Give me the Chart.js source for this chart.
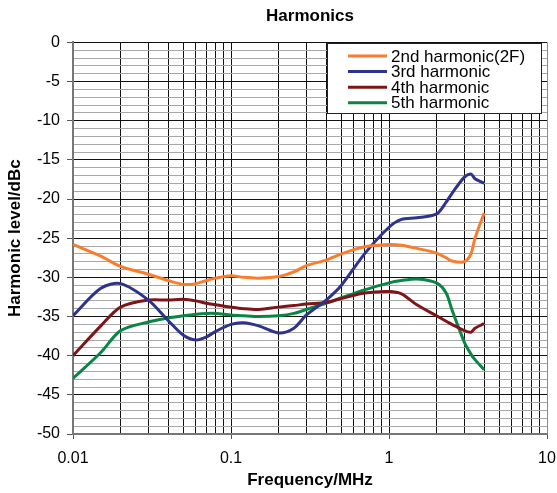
<!DOCTYPE html>
<html>
<head>
<meta charset="utf-8">
<script src="https://cdn.jsdelivr.net/npm/chart.js@4/dist/chart.umd.min.js"></script>
<style>
  html, body { margin: 0; padding: 0; background: #fff; }
  canvas { display: block; }
</style>
</head>
<body>
<canvas id="chart" width="557" height="493"></canvas>
<script>
// frequencies (MHz) the curves were read at
const freqMHz = [0.01, 0.015, 0.02, 0.03, 0.04, 0.05, 0.06, 0.07, 0.08, 0.1, 0.12, 0.15, 0.2, 0.25,
  0.3, 0.4, 0.5, 0.7, 1, 1.2, 1.5, 2, 2.3, 2.5, 3, 3.3, 3.5, 4];

// harmonic levels, dBc
const harm2 = [-25.8, -27.3, -28.6, -29.6, -30.4, -30.9, -30.8, -30.4, -30.1, -29.8, -30.0, -30.1, -29.9, -29.3,
  -28.5, -27.8, -27.0, -26.1, -25.8, -25.9, -26.3, -26.9, -27.5, -27.9, -28.0, -27.0, -25.0, -21.8];
const harm3 = [-34.9, -31.4, -30.8, -32.9, -35.5, -37.4, -38.0, -37.6, -36.9, -36.0, -35.8, -36.2, -37.1, -36.5,
  -34.8, -32.9, -31.0, -27.0, -23.6, -22.6, -22.4, -21.9, -20.4, -19.3, -17.2, -16.8, -17.4, -18.0];
const harm4 = [-40.0, -36.2, -33.8, -32.9, -32.9, -32.8, -33.0, -33.3, -33.5, -33.8, -34.0, -34.1, -33.8, -33.6,
  -33.4, -33.2, -32.7, -32.0, -31.8, -32.1, -33.5, -34.9, -35.6, -36.0, -36.8, -37.0, -36.5, -35.9];
const harm5 = [-42.9, -39.6, -36.8, -35.7, -35.2, -34.9, -34.7, -34.6, -34.6, -34.8, -34.9, -35.0, -34.9, -34.6,
  -34.1, -33.3, -32.6, -31.6, -30.7, -30.4, -30.2, -30.7, -32.0, -34.1, -38.3, -39.8, -40.5, -41.8];

const seriesNames = ["2nd harmonic(2F)", "3rd harmonic", "4th harmonic", "5th harmonic"];
const seriesColors = ["#fb7c2a", "#2e338c", "#7f1518", "#0a8644"];

// axis ticks
const xDecades = [0.01, 0.1, 1, 10];
const yMin = -50, yMax = 0, yLabelStep = 5;

const FONT = "'Liberation Sans', Arial, sans-serif";

// grid lines at 1..9 of every decade
const xGrid = [];
xDecades.forEach((d, i) => {
  const last = i === xDecades.length - 1;
  for (let m = 1; m <= (last ? 1 : 9); m++) xGrid.push(+(m * d).toPrecision(3));
});
const isDecade = v => Math.abs(Math.log10(v) - Math.round(Math.log10(v))) < 1e-9;

const yGrid = [];
for (let v = yMin; v <= yMax; v++) yGrid.push(v);

const toPoints = arr => arr.map((y, i) => ({ x: freqMHz[i], y: y }));

// legend box drawn inside the plot, like the original
const boxLegend = {
  id: "boxLegend",
  afterDatasetsDraw(chart) {
    const c = chart.ctx;
    const left = 327, top = 43, w = 214, h = 70;
    c.save();
    c.fillStyle = "#fff";
    c.fillRect(left, top, w, h);
    c.strokeStyle = "#222";
    c.lineWidth = 1;
    c.strokeRect(left + 0.5, top + 0.5, w, h);
    c.font = "17px " + FONT;
    c.textBaseline = "middle";
    c.fillStyle = "#000";
    chart.data.datasets.forEach((ds, i) => {
      const y = 56 + i * 15.6;
      c.strokeStyle = ds.borderColor;
      c.lineWidth = 3;
      c.beginPath();
      c.moveTo(348, y);
      c.lineTo(387, y);
      c.stroke();
      c.fillText(ds.label, 391, y + 1);
    });
    c.restore();
  }
};

const datasets = [harm2, harm3, harm4, harm5].map((arr, i) => ({
  label: seriesNames[i],
  data: toPoints(arr),
  borderColor: seriesColors[i],
  backgroundColor: seriesColors[i],
  borderWidth: 3,
  pointRadius: 0,
  tension: 0.3,
  fill: false
}));

new Chart(document.getElementById("chart"), {
  type: "line",
  data: { datasets },
  options: {
    responsive: false,
    animation: false,
    layout: { padding: { left: 0, right: 0, top: 0, bottom: 0 } },
    plugins: {
      legend: { display: false },
      tooltip: { enabled: false },
      title: {
        display: true,
        text: "Harmonics",
        fullSize: false,
        color: "#000",
        font: { family: FONT, size: 17, weight: "bold" },
        padding: { top: 6, bottom: 16 }
      }
    },
    scales: {
      x: {
        type: "logarithmic",
        min: 0.01,
        max: 10,
        afterBuildTicks: s => { s.ticks = xGrid.map(v => ({ value: v })); },
        afterFit: s => { s.height = 59; s.paddingLeft = 0; s.paddingRight = 10; },
        ticks: {
          autoSkip: false,
          maxRotation: 0,
          padding: 10,
          color: "#000",
          font: { family: FONT, size: 16 },
          callback: v => (isDecade(v) ? String(v) : "")
        },
        grid: {
          lineWidth: 1,
          tickLength: 5,
          color: ctx => (ctx.tick && ctx.tick.value === 10 ? "#8a8a8a" : "#111"),
          tickColor: ctx => (ctx.tick && isDecade(ctx.tick.value) ? "#555" : "rgba(0,0,0,0)")
        },
        border: { color: "#777", width: 2 },
        title: {
          display: true,
          text: "Frequency/MHz",
          color: "#000",
          font: { family: FONT, size: 17, weight: "bold" },
          padding: { top: 0, bottom: 2 }
        }
      },
      y: {
        type: "linear",
        min: yMin,
        max: yMax,
        afterBuildTicks: s => { s.ticks = yGrid.map(v => ({ value: v })); },
        afterFit: s => { s.width = 73; },
        ticks: {
          autoSkip: false,
          padding: 7,
          color: "#000",
          font: { family: FONT, size: 16 },
          callback: v => (v % yLabelStep === 0 ? String(v) : "")
        },
        grid: {
          lineWidth: 1,
          tickLength: 6,
          color: ctx => (ctx.tick && ctx.tick.value % yLabelStep === 0 ? "#111" : "#a8a8a8"),
          tickColor: ctx => (ctx.tick && ctx.tick.value % yLabelStep === 0 ? "#555" : "rgba(0,0,0,0)")
        },
        border: { color: "#777", width: 2 },
        title: {
          display: true,
          text: "Harmonic level/dBc",
          color: "#000",
          font: { family: FONT, size: 17, weight: "bold" },
          padding: { top: 5, bottom: 0 }
        }
      }
    }
  },
  plugins: [boxLegend]
});
</script>
</body>
</html>
